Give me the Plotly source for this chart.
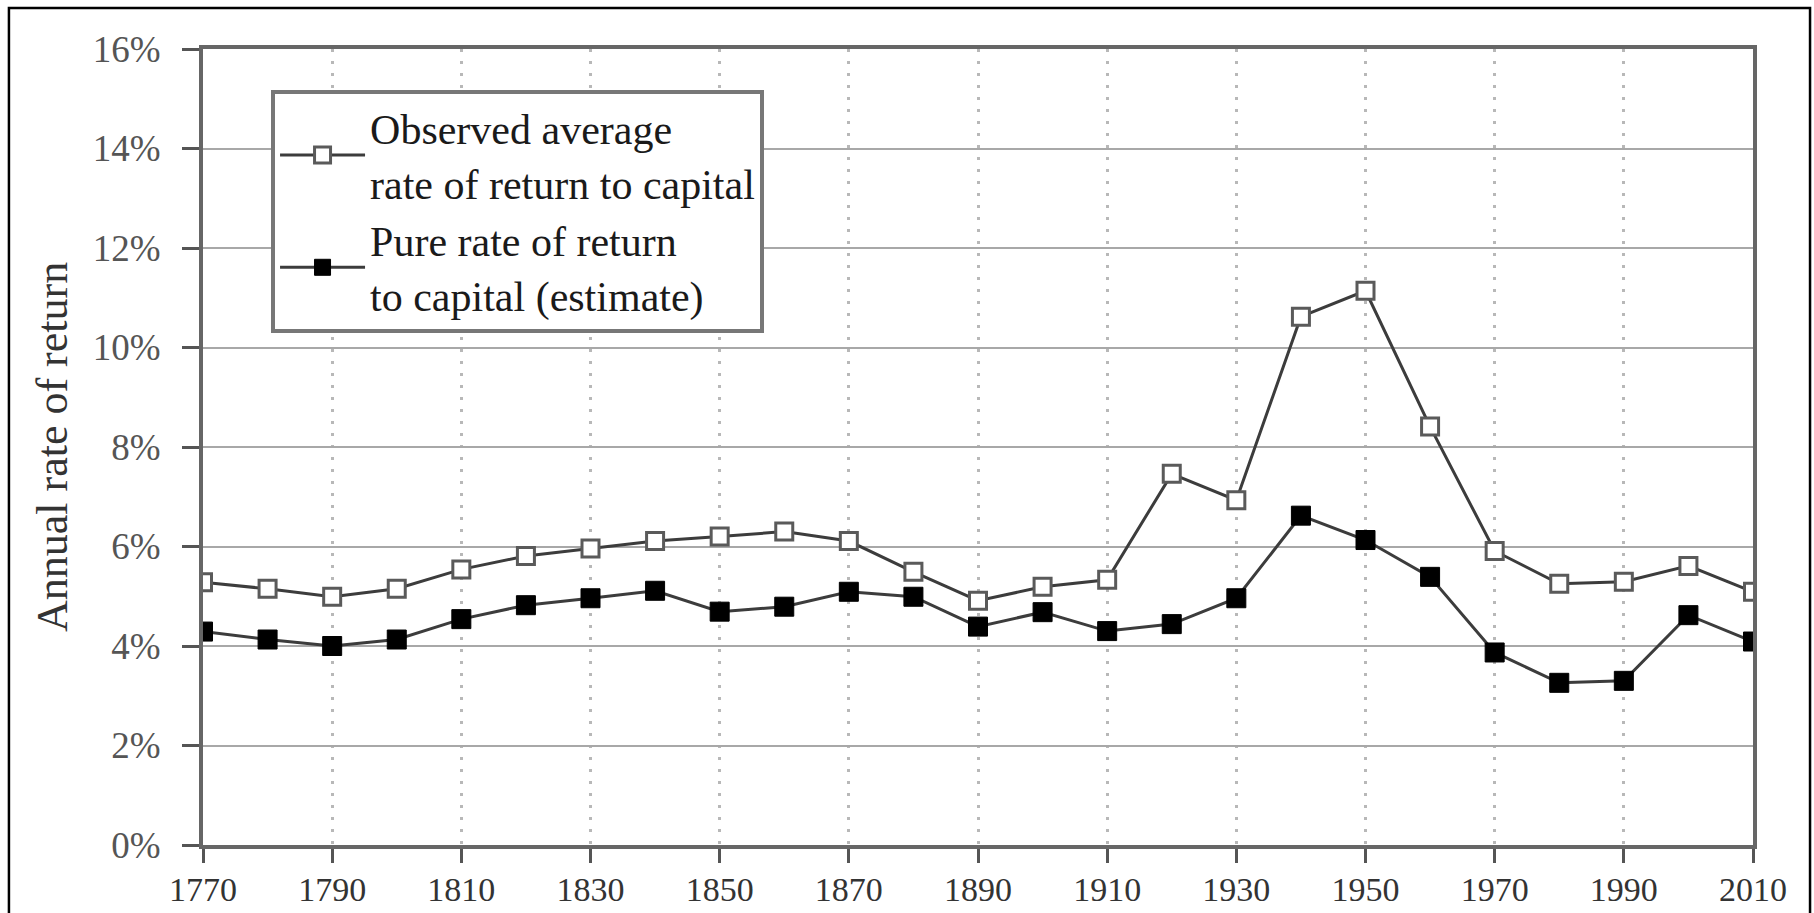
import plotly.graph_objects as go

years = [1770, 1780, 1790, 1800, 1810, 1820, 1830, 1840, 1850, 1860, 1870, 1880,
         1890, 1900, 1910, 1920, 1930, 1940, 1950, 1960, 1970, 1980, 1990, 2000, 2010]

observed = [5.28, 5.15, 4.99, 5.15, 5.54, 5.81, 5.96, 6.11, 6.20, 6.30, 6.11, 5.49,
            4.91, 5.19, 5.33, 7.46, 6.93, 10.62, 11.14, 8.41, 5.91, 5.25, 5.29, 5.61, 5.09]

pure = [4.29, 4.13, 4.00, 4.13, 4.54, 4.82, 4.96, 5.11, 4.69, 4.79, 5.09, 4.99,
        4.39, 4.68, 4.30, 4.44, 4.96, 6.62, 6.13, 5.39, 3.87, 3.26, 3.30, 4.62, 4.09]

y_tick_values = [0, 2, 4, 6, 8, 10, 12, 14, 16]
y_tick_labels = ["0%", "2%", "4%", "6%", "8%", "10%", "12%", "14%", "16%"]
x_tick_values = [1770, 1790, 1810, 1830, 1850, 1870, 1890, 1910, 1930, 1950, 1970, 1990, 2010]
x_tick_labels = [str(v) for v in x_tick_values]

name_observed = "Observed average<br>rate of return to capital"
name_pure = "Pure rate of return<br>to capital (estimate)"
y_title = "Annual rate of return"

SERIF = "Liberation Serif, Times New Roman, serif"

fig = go.Figure()
fig.add_trace(go.Scatter(
    x=years, y=observed, name=name_observed, mode="lines+markers",
    line=dict(color="#3c3c3c", width=3),
    marker=dict(symbol="square", size=17, color="white",
                line=dict(color="#5a5a5a", width=3)),
))
fig.add_trace(go.Scatter(
    x=years, y=pure, name=name_pure, mode="lines+markers",
    line=dict(color="#3c3c3c", width=3),
    marker=dict(symbol="square", size=19, color="black",
                line=dict(color="black", width=1)),
))

fig.update_layout(
    width=1814, height=913,
    margin=dict(l=203, r=61, t=49, b=68, autoexpand=False),
    paper_bgcolor="white", plot_bgcolor="white",
    font=dict(family=SERIF, color="#333333"),
    showlegend=True,
    legend=dict(
        x=0.0439, y=0.9485, xanchor="left", yanchor="top",
        bgcolor="white", bordercolor="#777777", borderwidth=4,
        font=dict(family=SERIF, size=42, color="#1a1a1a"),
        itemwidth=85, tracegroupgap=0,
    ),
)

fig.update_xaxes(
    range=[1770, 2010], automargin=False,
    tickmode="array", tickvals=x_tick_values, ticktext=x_tick_labels,
    ticks="outside", ticklen=14, tickwidth=3, tickcolor="#555555",
    tickfont=dict(family=SERIF, size=34, color="#333333"),
    ticklabelstandoff=-3,
    showline=True, linecolor="#666666", linewidth=4, mirror=True,
    showgrid=True, gridcolor="#b8b8b8", gridwidth=2.5, griddash="3px,9px",
    zeroline=False,
)
fig.update_yaxes(
    range=[0, 16], automargin=False,
    tickmode="array", tickvals=y_tick_values, ticktext=y_tick_labels,
    ticks="outside", ticklen=17, tickwidth=3, tickcolor="#555555",
    tickfont=dict(family=SERIF, size=37, color="#555555"),
    ticklabelstandoff=14,
    showline=True, linecolor="#666666", linewidth=4, mirror=True,
    showgrid=True, gridcolor="#a8a8a8", gridwidth=2,
    zeroline=False,
)

fig.add_annotation(
    text=y_title, textangle=-90, xref="paper", yref="paper",
    x=-0.0974, y=0.5, xanchor="center", yanchor="middle", showarrow=False,
    font=dict(family=SERIF, size=44, color="#333333"),
)

# outer black frame of the figure
fig.add_shape(type="rect", xref="paper", yref="paper",
              x0=-0.1252, x1=1.0368, y0=-0.2, y1=1.0515,
              line=dict(color="black", width=2.5), fillcolor="rgba(0,0,0,0)",
              layer="above")

fig.write_html("out.html", config={"displayModeBar": False},
               post_script="document.body.style.margin='0px';")
